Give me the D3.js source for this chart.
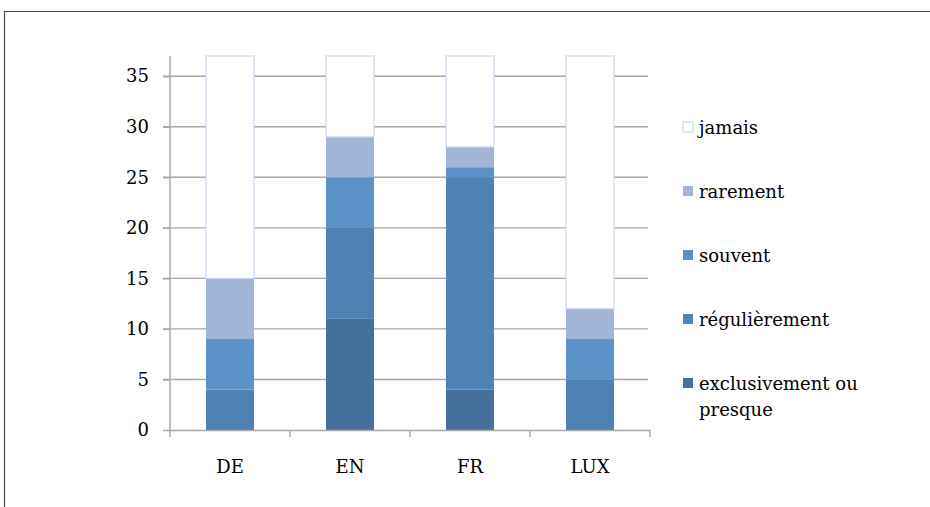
<!DOCTYPE html>
<html>
<head>
<meta charset="utf-8">
<script src="https://cdn.jsdelivr.net/npm/d3@7"></script>
<style>
  body { margin: 0; background: #fff; }
  text { font-family: "DejaVu Serif", serif; fill: #000; }
</style>
</head>
<body>
<script>
// data
const categories = ["DE", "EN", "FR", "LUX"];
const seriesNames = ["exclusivement ou presque", "régulièrement", "souvent", "rarement", "jamais"];
const exclusivement = [0, 11, 4, 0];
const regulierement = [4, 9, 21, 5];
const souvent = [5, 5, 1, 4];
const rarement = [6, 4, 2, 3];
const jamais = [22, 8, 9, 25];
const yTicks = [0, 5, 10, 15, 20, 25, 30, 35];

const colors = ["#45709b", "#4f81b3", "#5a91c6", "#a3b5d7", "#ffffff"];

const rows = categories.map((c, i) => ({
  cat: c,
  [seriesNames[0]]: exclusivement[i],
  [seriesNames[1]]: regulierement[i],
  [seriesNames[2]]: souvent[i],
  [seriesNames[3]]: rarement[i],
  [seriesNames[4]]: jamais[i]
}));

const width = 930, height = 507;
const fs = 18;
const svg = d3.select("body").append("svg").attr("width", width).attr("height", height);

// outer frame (top + left edges only visible)
svg.append("path")
  .attr("d", `M4.5,${height} L4.5,11.5 L${width},11.5`)
  .attr("fill", "none").attr("stroke", "#4a4a4a").attr("stroke-width", 1.2);

const x = d3.scaleBand().domain(categories).range([170, 650]).paddingInner(0.6).paddingOuter(0.3);
const y = d3.scaleLinear().domain([0, 37]).range([430, 56]);

const axisCol = "#a8a8a8";

// gridlines
svg.append("g").selectAll("line")
  .data(yTicks.filter(t => t > 0))
  .enter().append("line")
  .attr("x1", 163).attr("x2", 648)
  .attr("y1", d => y(d)).attr("y2", d => y(d))
  .attr("stroke", axisCol).attr("stroke-width", 1.4);

// y axis
const yAxis = svg.append("g").attr("transform", "translate(170,0)")
  .call(d3.axisLeft(y).tickValues(yTicks).tickSize(7).tickPadding(14));
yAxis.select(".domain").remove();
yAxis.selectAll("line").attr("stroke", axisCol).attr("stroke-width", 1.4);
yAxis.selectAll("text").attr("font-family", "DejaVu Serif").attr("font-size", fs).attr("fill", "#000");
svg.append("line").attr("x1", 170).attr("x2", 170).attr("y1", 56).attr("y2", 431)
  .attr("stroke", axisCol).attr("stroke-width", 1.5);

// bars
const stack = d3.stack().keys(seriesNames)(rows);
svg.append("g").selectAll("g")
  .data(stack)
  .enter().append("g")
  .attr("fill", (d, i) => colors[i])
  .selectAll("rect")
  .data(d => d.map(s => ({ s, key: d.key })))
  .enter().append("rect")
  .filter(d => d.s[1] > d.s[0])
  .attr("x", d => x(d.s.data.cat))
  .attr("width", x.bandwidth())
  .attr("y", d => y(d.s[1]))
  .attr("height", d => y(d.s[0]) - y(d.s[1]))
  .attr("stroke", d => d.key === "jamais" ? "#c9daf2" : "none")
  .attr("stroke-width", 1.2);

// x axis
svg.append("line").attr("x1", 170).attr("x2", 650).attr("y1", 430.5).attr("y2", 430.5)
  .attr("stroke", axisCol).attr("stroke-width", 1.5);
const bounds = [170].concat(categories.map(c => x(c) + x.bandwidth() / 2 + x.step() / 2));
svg.append("g").selectAll("line").data(bounds).enter().append("line")
  .attr("x1", d => d).attr("x2", d => d).attr("y1", 430).attr("y2", 437)
  .attr("stroke", axisCol).attr("stroke-width", 1.4);
svg.append("g").selectAll("text").data(categories).enter().append("text")
  .attr("x", d => x(d) + x.bandwidth() / 2)
  .attr("y", 473)
  .attr("text-anchor", "middle")
  .attr("font-size", fs)
  .text(d => d);

// legend (top to bottom = jamais .. exclusivement)
const legendItems = seriesNames.map((n, i) => ({ n, c: colors[i] })).reverse();
const lg = svg.append("g").selectAll("g").data(legendItems).enter().append("g")
  .attr("transform", (d, i) => `translate(683,${128 + i * 64})`);
lg.append("rect").attr("x", 0).attr("y", -6).attr("width", 10).attr("height", 10)
  .attr("fill", d => d.c)
  .attr("stroke", d => d.n === "jamais" ? "#c9daf2" : "none").attr("stroke-width", 1.2);
lg.append("text").attr("x", 16).attr("y", 6).attr("font-size", fs)
  .each(function (d) {
    const t = d3.select(this);
    if (d.n === "exclusivement ou presque") {
      t.append("tspan").attr("x", 16).text("exclusivement ou");
      t.append("tspan").attr("x", 16).attr("dy", 26).text("presque");
    } else {
      t.text(d.n);
    }
  });
</script>
</body>
</html>
